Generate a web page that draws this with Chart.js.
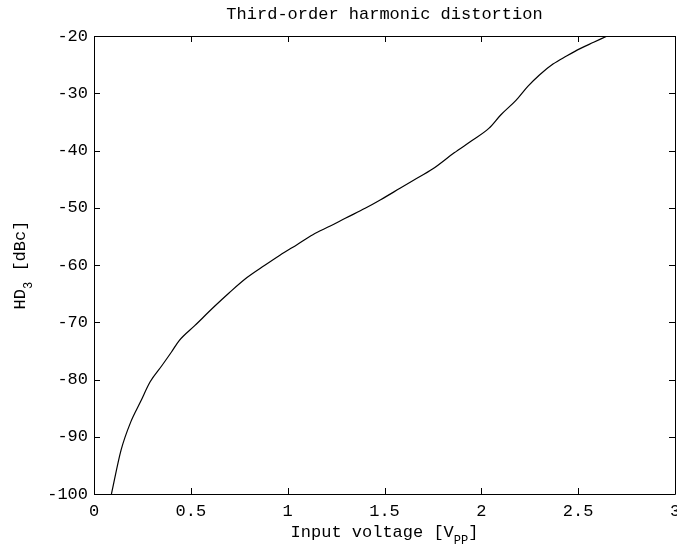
<!DOCTYPE html>
<html>
<head>
<meta charset="utf-8">
<script src="https://cdn.jsdelivr.net/npm/chart.js@4/dist/chart.umd.min.js"></script>
<style>
  html, body { margin: 0; padding: 0; background: #fff; }
  #wrap { width: 677px; height: 547px; }
</style>
</head>
<body>
<div id="wrap"><canvas id="hd3Chart" width="677" height="547"></canvas></div>
<script>
// data
const inputVoltage = [0.09, 0.14, 0.19, 0.24, 0.29, 0.35, 0.40, 0.44, 0.52, 0.62, 0.70, 0.79, 0.88, 0.96,
    1.05, 1.13, 1.22, 1.30, 1.40, 1.48, 1.58, 1.65, 1.75, 1.86, 1.95, 2.04, 2.10, 2.18, 2.24, 2.30,
    2.37, 2.44, 2.51, 2.58, 2.65];
const hd3 = [-100, -92.3, -87.4, -83.9, -80.4, -77.6, -75.2, -73.2, -70.6, -67.3, -64.8, -62.2, -60.1, -58.3,
    -56.4, -54.7, -53.2, -51.8, -50.1, -48.6, -46.6, -45.2, -43.2, -40.4, -38.3, -36.1, -33.8, -31.2, -28.8, -26.8,
    -24.9, -23.5, -22.2, -21.1, -20.0];
const xTicks = [0, 0.5, 1, 1.5, 2, 2.5, 3];
const yTicks = [-100, -90, -80, -70, -60, -50, -40, -30, -20];

const chartTitle = 'Third-order harmonic distortion';
const xLabel = ['Input voltage [V', 'PP', ']'];
const yLabel = ['HD', '3', ' [dBc]'];

const FONT = '"Liberation Mono", "DejaVu Sans Mono", monospace';

// box + inward ticks on all four sides, like matlab
const boxPlugin = {
    id: 'boxPlugin',
    afterDatasetsDraw(chart) {
        const ctx = chart.ctx;
        const a = chart.chartArea;
        const xs = chart.scales.x;
        const ys = chart.scales.y;
        const len = 6;
        ctx.save();
        ctx.strokeStyle = '#000';
        ctx.lineWidth = 1;
        ctx.beginPath();
        ctx.rect(Math.round(a.left) + 0.5, Math.round(a.top) + 0.5,
            Math.round(a.right - a.left), Math.round(a.bottom - a.top));
        xTicks.forEach(v => {
            const px = Math.round(xs.getPixelForValue(v)) + 0.5;
            ctx.moveTo(px, a.bottom); ctx.lineTo(px, a.bottom - len);
            ctx.moveTo(px, a.top); ctx.lineTo(px, a.top + len);
        });
        yTicks.forEach(v => {
            const py = Math.round(ys.getPixelForValue(v)) + 0.5;
            ctx.moveTo(a.left, py); ctx.lineTo(a.left + len, py);
            ctx.moveTo(a.right, py); ctx.lineTo(a.right - len, py);
        });
        ctx.stroke();
        ctx.restore();
    }
};

// axis labels with subscripts
function drawSubLabel(ctx, parts, cx, baseY) {
    const big = '17px ' + FONT;
    const small = '12px ' + FONT;
    ctx.font = big;
    const w0 = ctx.measureText(parts[0]).width;
    const w2 = ctx.measureText(parts[2]).width;
    ctx.font = small;
    const w1 = ctx.measureText(parts[1]).width;
    let x = cx - (w0 + w1 + w2) / 2;
    ctx.textAlign = 'left';
    ctx.textBaseline = 'alphabetic';
    ctx.font = big;
    ctx.fillText(parts[0], x, baseY);
    x += w0;
    ctx.font = small;
    ctx.fillText(parts[1], x, baseY + 7);
    x += w1;
    ctx.font = big;
    ctx.fillText(parts[2], x, baseY);
}

const labelPlugin = {
    id: 'labelPlugin',
    afterDraw(chart) {
        const ctx = chart.ctx;
        const a = chart.chartArea;
        ctx.save();
        ctx.fillStyle = '#000';
        drawSubLabel(ctx, xLabel, (a.left + a.right) / 2, 537);
        ctx.translate(25, (a.top + a.bottom) / 2);
        ctx.rotate(-Math.PI / 2);
        drawSubLabel(ctx, yLabel, 0, 0);
        ctx.restore();
    }
};

const hdChart = new Chart(document.getElementById('hd3Chart').getContext('2d'), {
    type: 'line',
    data: {
        datasets: [{
            label: 'HD3',
            data: inputVoltage.map((v, i) => ({ x: v, y: hd3[i] })),
            borderColor: '#000',
            borderWidth: 1.2,
            pointRadius: 0,
            cubicInterpolationMode: 'monotone',
            fill: false
        }]
    },
    options: {
        responsive: false,
        animation: false,
        layout: { padding: { left: 0, right: 2, top: 0, bottom: 0 } },
        plugins: {
            legend: { display: false },
            tooltip: { enabled: false },
            title: {
                display: true,
                fullSize: false,
                text: chartTitle,
                color: '#000',
                font: { family: FONT, size: 17, weight: 'normal', lineHeight: 1.2 },
                padding: { top: 4, bottom: 11.6 }
            }
        },
        scales: {
            x: {
                type: 'linear',
                min: 0,
                max: 3,
                grid: { display: false, drawTicks: false },
                border: { display: false },
                ticks: {
                    stepSize: 0.5,
                    color: '#000',
                    padding: 7,
                    maxRotation: 0,
                    font: { family: FONT, size: 17 },
                    callback: v => String(v)
                },
                afterFit(s) {
                    s.height = 53;
                    s.paddingLeft = 0;
                    s.paddingRight = 0;
                }
            },
            y: {
                min: -100,
                max: -20,
                grid: { display: false, drawTicks: false },
                border: { display: false },
                ticks: {
                    stepSize: 10,
                    color: '#000',
                    padding: 6,
                    font: { family: FONT, size: 17 }
                },
                afterFit(s) {
                    s.width = 94;
                    s.paddingTop = 0;
                    s.paddingBottom = 0;
                }
            }
        }
    },
    plugins: [boxPlugin, labelPlugin]
});
</script>
</body>
</html>
